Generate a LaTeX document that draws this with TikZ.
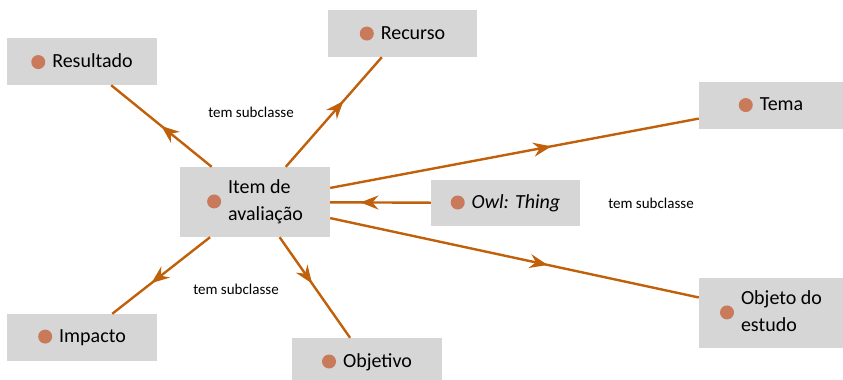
\documentclass[tikz,border=0pt]{standalone}
\usepackage{fontspec}
\setmainfont{Carlito}
\usetikzlibrary{arrows.meta,decorations.markings}
\definecolor{boxgray}{HTML}{D6D6D6}
\definecolor{edgeor}{HTML}{C0600A}
\definecolor{dotor}{HTML}{C87A5A}
\newcommand{\dotmk}{\tikz[baseline=-0.6ex]\fill[dotor] (0,0) circle (7pt);\hspace{7pt}}
\tikzset{
  cls/.style={fill=boxgray, inner sep=0pt, minimum width=150pt, minimum height=47pt,
              font=\fontsize{20}{27}\selectfont, align=left},
  subof/.style={edgeor, line width=2.4pt, postaction={decorate},
                decoration={markings, mark=at position #1 with {\arrow{Stealth[length=18pt,width=14pt,inset=6pt]}}}},
  subof/.default=0.5,
  lbl/.style={font=\fontsize{15}{18}\selectfont, inner sep=0pt}
}
\begin{document}
\begin{tikzpicture}[x=1pt, y=-1pt]
\useasboundingbox (0,0) rectangle (843,380);
% classes
\node [cls] (res) at (82,61.5) {\dotmk Resultado};
\node [cls, minimum width=149pt] (rec) at (402.5,33.5) {\dotmk Recurso};
\node [cls, minimum height=70pt] (item) at (255,202) {\dotmk\begin{tabular}[c]{@{}l@{}}Item de\\avaliação\end{tabular}};
\node [cls, minimum width=149pt, minimum height=46pt] (owl) at (505.5,203) {\dotmk\textit{Owl: Thing}};
\node [cls, minimum width=144pt] (tema) at (771,105) {\dotmk Tema};
\node [cls, minimum width=144pt, minimum height=70pt] (obj) at (771,313) {\dotmk\begin{tabular}[c]{@{}l@{}}Objeto do\\estudo\end{tabular}};
\node [cls] (imp) at (82,337.5) {\dotmk Impacto};
\node [cls, minimum height=48pt] (objv) at (367,362) {\dotmk Objetivo};
% labels
\node [lbl] (l1) at (251,112) {tem subclasse};
\node [lbl] (l2) at (236,289) {tem subclasse};
\node [lbl] (l3) at (651,203) {tem subclasse};
% edges
\draw [subof=0.5] (item) -- (res);
\draw [subof=0.6] (item) -- (rec);
\draw [subof=0.6] (item) -- (tema);
\draw [subof=0.7] (owl) -- (item);
\draw [subof=0.59] (item) -- (obj);
\draw [subof=0.6] (item) -- (imp);
\draw [subof=0.46] (item) -- (objv);
\end{tikzpicture}
\end{document}
